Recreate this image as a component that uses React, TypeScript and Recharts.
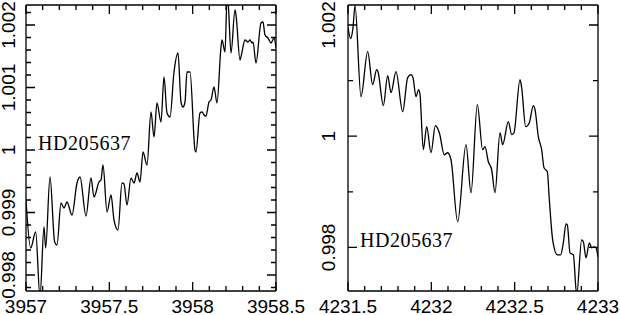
import { LineChart, Line, XAxis, YAxis, ReferenceDot } from 'recharts'

// left panel: wavelength / normalised flux
const leftWave = [
  3957.0, 3957.028, 3957.058, 3957.084, 3957.108, 3957.118, 3957.144, 3957.172, 3957.186, 3957.21,
  3957.228, 3957.246, 3957.276, 3957.306, 3957.324, 3957.36, 3957.39, 3957.408, 3957.438, 3957.45,
  3957.462, 3957.486, 3957.51, 3957.528, 3957.552, 3957.576, 3957.588, 3957.606, 3957.63, 3957.648,
  3957.666, 3957.684, 3957.702, 3957.726, 3957.75, 3957.768, 3957.786, 3957.81, 3957.828, 3957.846,
  3957.864, 3957.888, 3957.912, 3957.93, 3957.942, 3957.954, 3957.966, 3957.984, 3958.014, 3958.02,
  3958.044, 3958.056, 3958.068, 3958.08, 3958.098, 3958.11, 3958.128, 3958.146, 3958.17, 3958.176,
  3958.194, 3958.206, 3958.212, 3958.23, 3958.254, 3958.26, 3958.284, 3958.29, 3958.314, 3958.332,
  3958.344, 3958.356, 3958.362, 3958.38, 3958.41, 3958.422, 3958.434, 3958.452, 3958.47, 3958.488,
  3958.5,
]
const leftFlux = [
  0.9992, 0.998432, 0.998688, 0.99765, 0.998768, 0.998432, 0.999568, 0.998528, 0.99848, 0.999152,
  0.999072, 0.999168, 0.99896, 0.999472, 0.999568, 0.998944, 0.999552, 0.999248, 0.999488, 0.99952,
  0.99976, 0.999008, 0.99928, 0.99888, 0.99872, 0.999472, 0.999456, 0.99912, 0.999552, 0.999472,
  0.999632, 0.999488, 0.999968, 0.99976, 1.000608, 1.000208, 1.000752, 1.000448, 1.001168, 1.000592,
  1.000528, 1.001248, 1.001552, 1.000768, 1.000688, 1.000768, 1.001248, 1.001248, 1.0, 0.999968,
  1.000592, 1.000608, 1.00056, 1.000544, 1.000768, 1.0008, 1.001008, 1.000752, 1.001648, 1.00176,
  1.001568, 1.0024, 1.00237, 1.001552, 1.00224, 1.00216, 1.00144, 1.00149, 1.00176, 1.001728,
  1.00176, 1.001712, 1.001728, 1.001392, 1.002032, 1.002048, 1.00184, 1.001792, 1.001712, 1.001792,
  1.001632,
]

// right panel
const rightWave = [
  4231.5, 4231.516, 4231.53, 4231.542, 4231.578, 4231.618, 4231.648, 4231.672, 4231.68, 4231.712,
  4231.738, 4231.758, 4231.788, 4231.828, 4231.858, 4231.878, 4231.89, 4231.908, 4231.924, 4231.932,
  4231.952, 4231.972, 4231.998, 4232.024, 4232.048, 4232.078, 4232.098, 4232.118, 4232.158, 4232.208,
  4232.238, 4232.276, 4232.308, 4232.322, 4232.342, 4232.362, 4232.382, 4232.412, 4232.428, 4232.462,
  4232.482, 4232.496, 4232.532, 4232.542, 4232.566, 4232.588, 4232.612, 4232.622, 4232.642, 4232.662,
  4232.676, 4232.696, 4232.708, 4232.728, 4232.756, 4232.776, 4232.792, 4232.808, 4232.816, 4232.832,
  4232.852, 4232.872, 4232.902, 4232.912, 4232.928, 4232.948, 4232.962, 4232.976, 4232.988, 4233.0,
]
const rightFlux = [
  1.001953, 1.001755, 1.001953, 1.002349, 1.000711, 1.001521, 1.000927, 1.001197, 1.001161, 1.000549,
  1.001089, 1.000783, 1.001161, 1.000441, 1.001053, 1.001107, 1.001053, 1.000711, 1.000837, 1.000747,
  0.999757, 1.000171, 0.999703, 1.000189, 1.000063, 0.999667, 0.999703, 0.999577, 0.998461, 0.999847,
  0.998983, 1.000567, 0.999757, 0.999811, 0.999541, 0.999397, 0.998983, 1.000063, 0.999847, 1.000261,
  1.000027, 1.000063, 1.001017, 1.000873, 1.000171, 1.000243, 1.000549, 1.000477, 0.999991, 0.999757,
  0.999433, 0.999361, 0.998857, 0.998137, 0.997867, 0.997867, 0.998083, 0.998425, 0.998407, 0.997903,
  0.997867, 0.997147, 0.998137, 0.998101, 0.997813, 0.998083, 0.997993, 0.998011, 0.997993, 0.997831,
]

const leftXTicks = [3957, 3957.1, 3957.2, 3957.3, 3957.4, 3957.5, 3957.6, 3957.7, 3957.8, 3957.9, 3958, 3958.1, 3958.2, 3958.3, 3958.4, 3958.5]
const leftXLabels = [3957, 3957.5, 3958, 3958.5]
const leftYTicks = [
  0.9978, 0.998, 0.9982, 0.9984, 0.9986, 0.9988, 0.999, 0.9992, 0.9994, 0.9996, 0.9998, 1,
  1.0002, 1.0004, 1.0006, 1.0008, 1.001, 1.0012, 1.0014, 1.0016, 1.0018, 1.002, 1.0022,
]
const leftYLabels = [0.998, 0.999, 1, 1.001, 1.002]

const rightXTicks = [4231.5, 4231.6, 4231.7, 4231.8, 4231.9, 4232, 4232.1, 4232.2, 4232.3, 4232.4, 4232.5, 4232.6, 4232.7, 4232.8, 4232.9, 4233]
const rightXLabels = [4231.5, 4232, 4232.5, 4233]
const rightYTicks = [0.998, 0.999, 1, 1.001, 1.002]
const rightYLabels = [0.998, 1, 1.002]

const starName = 'HD205637'

const leftData = leftWave.map((w, i) => ({ w, f: leftFlux[i] }))
const rightData = rightWave.map((w, i) => ({ w, f: rightFlux[i] }))

const sans = '"Liberation Sans", Arial, sans-serif'
const serif = '"Liberation Serif", "Times New Roman", serif'

// plot box is 250 x 286 in both panels
const PLOT_W = 250
const PLOT_H = 286

const isIn = (list: number[], v: number) => list.some((t) => Math.abs(t - v) < 1e-7)

// bottom axis tick: inward tick at bottom and the mirrored one at the top edge
const xTick = (labels: number[]) => (props: any) => {
  const { x, y, payload } = props
  const len = isIn(labels, payload.value) ? 9 : 5
  return (
    <g>
      <path d={`M${x},${y}L${x},${y - len}M${x},${y - PLOT_H}L${x},${y - PLOT_H + len}`} stroke="#000" strokeWidth={1.3} fill="none" />
      {len === 9 && (
        <text x={x} y={y + 22} textAnchor="middle" fontSize={19} fontFamily={sans} fill="#000">
          {String(payload.value)}
        </text>
      )}
    </g>
  )
}

// left axis tick: inward tick on the left and the mirrored one on the right edge
const yTick = (labels: number[], gap: number) => (props: any) => {
  const { x, y, payload } = props
  const len = isIn(labels, payload.value) ? 9 : 5
  return (
    <g>
      <path d={`M${x},${y}L${x + len},${y}M${x + PLOT_W},${y}L${x + PLOT_W - len},${y}`} stroke="#000" strokeWidth={1.3} fill="none" />
      {len === 9 && (
        <text x={x - gap} y={y} transform={`rotate(-90, ${x - gap}, ${y})`} textAnchor="middle" fontSize={19} fontFamily={sans} fill="#000">
          {String(payload.value)}
        </text>
      )}
    </g>
  )
}

const nameTag = (props: any) => (
  <text x={props.cx} y={props.cy} fontSize={20} letterSpacing={0.5} fontFamily={serif} fill="#000">
    {starName}
  </text>
)

const frame = { stroke: '#000', strokeWidth: 1.3 }

const Panel = ({ data, xDomain, yDomain, xTicks, xLabels, yTicks, yLabels, yWidth, right, labelGap, tagX, tagY }: any) => (
  <LineChart width={310} height={315} data={data} margin={{ top: 4, right, bottom: 0, left: 0 }}>
    <XAxis xAxisId="b" dataKey="w" type="number" domain={xDomain} allowDataOverflow ticks={xTicks} interval={0}
      height={24} tickLine={false} tickSize={0} tickMargin={0} axisLine={frame} tick={xTick(xLabels)} />
    <XAxis xAxisId="t" orientation="top" type="number" domain={xDomain} height={1} tick={false} tickLine={false} axisLine={frame} />
    <YAxis yAxisId="l" type="number" domain={yDomain} allowDataOverflow ticks={yTicks} interval={0}
      width={yWidth} tickLine={false} tickSize={0} tickMargin={0} axisLine={frame} tick={yTick(yLabels, labelGap)} />
    <YAxis yAxisId="r" orientation="right" type="number" domain={yDomain} width={1} tick={false} tickLine={false} axisLine={frame} />
    <Line xAxisId="b" yAxisId="l" type="monotone" dataKey="f" stroke="#000" strokeWidth={1.3} dot={false} isAnimationActive={false} />
    <ReferenceDot xAxisId="b" yAxisId="l" x={tagX} y={tagY} r={1} shape={nameTag} />
  </LineChart>
)

export default function App() {
  return (
    <div style={{ position: 'absolute', left: 0, top: 0, width: 620, height: 315, background: '#fff' }}>
      <div style={{ position: 'absolute', left: 0, top: 0 }}>
        <Panel data={leftData} xDomain={[3957, 3958.5]} yDomain={[0.997744, 1.00232]}
          xTicks={leftXTicks} xLabels={leftXLabels} yTicks={leftYTicks} yLabels={leftYLabels}
          yWidth={26} right={33} labelGap={11} tagX={3957.072} tagY={1} />
      </div>
      <div style={{ position: 'absolute', left: 310, top: 0 }}>
        <Panel data={rightData} xDomain={[4231.5, 4233]} yDomain={[0.997216, 1.00236]}
          xTicks={rightXTicks} xLabels={rightXLabels} yTicks={rightYTicks} yLabels={rightYLabels}
          yWidth={38} right={21} labelGap={13} tagX={4231.572} tagY={0.998} />
      </div>
    </div>
  )
}
